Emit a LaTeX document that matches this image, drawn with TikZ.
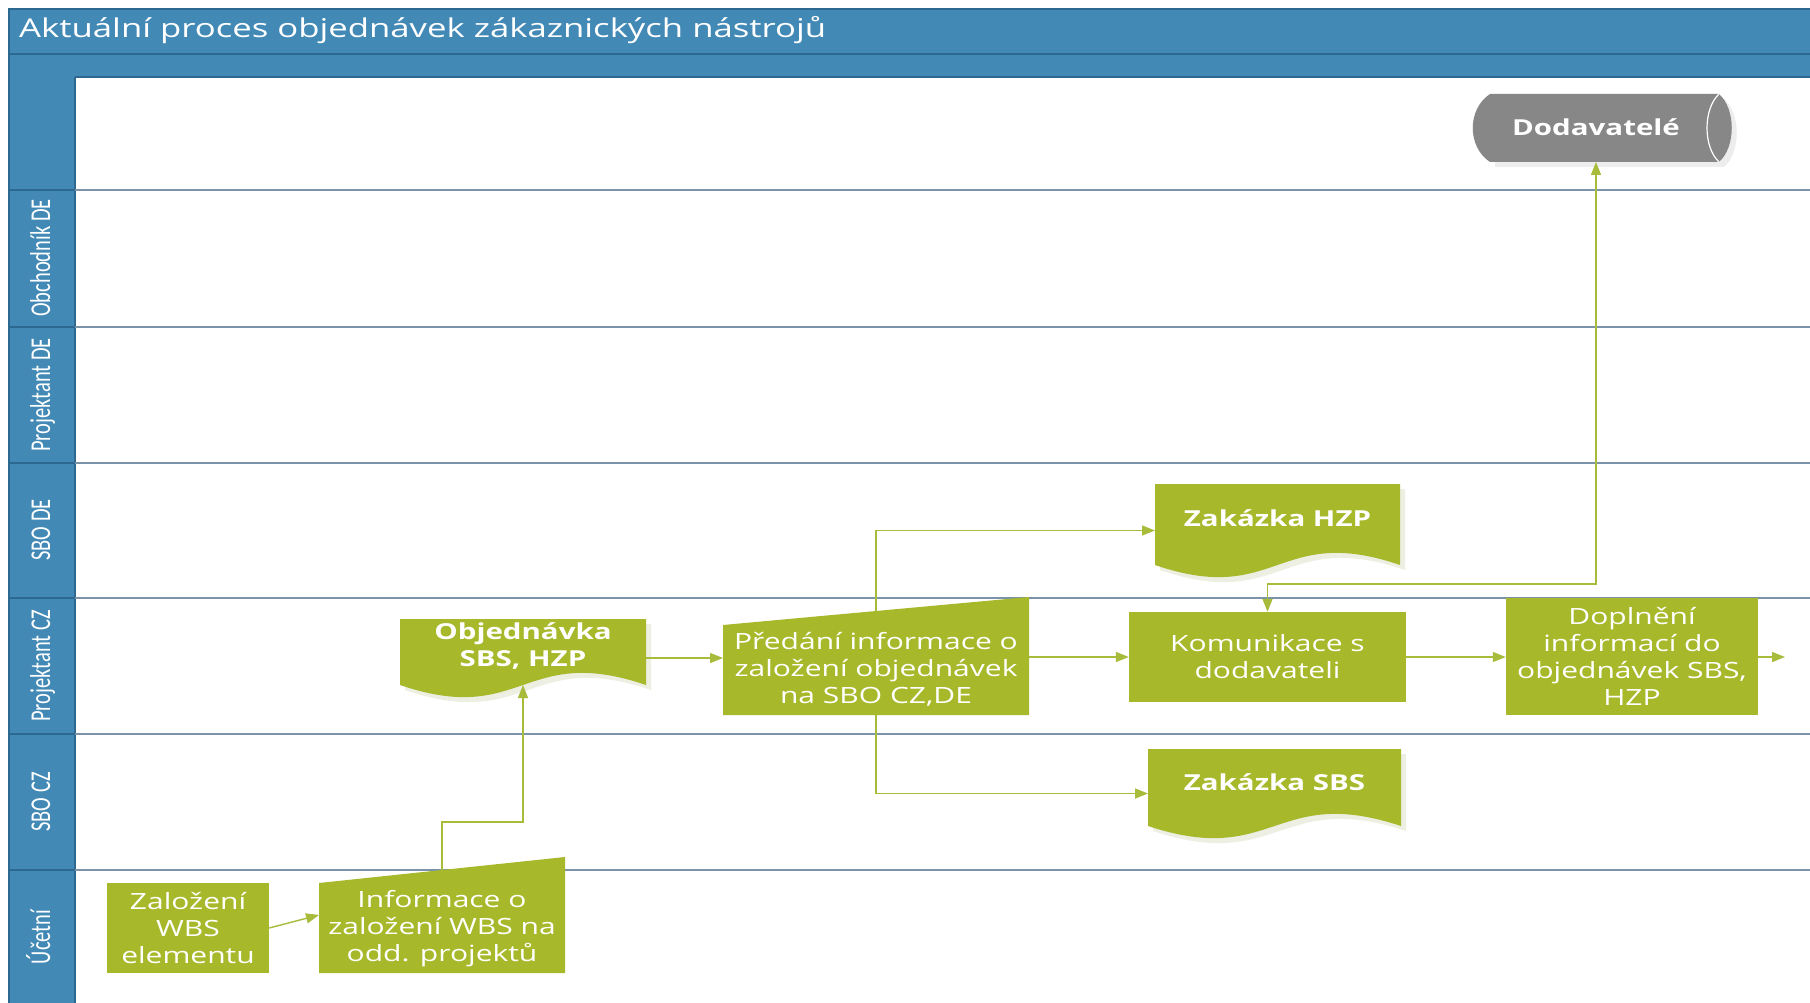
\documentclass[tikz,border=0pt]{standalone}
\usepackage{fontspec}
\setmainfont{Open Sans}[FakeStretch=1.34]
\newfontfamily\lanefamily{Carlito}
\usetikzlibrary{arrows.meta,calc}

\definecolor{hdrblue}{HTML}{4289B6}
\definecolor{hdrline}{HTML}{2C6890}
\definecolor{laneline}{HTML}{7A93A8}
\definecolor{boxgreen}{HTML}{A7B92A}
\definecolor{conngreen}{HTML}{A9BB3A}
\definecolor{storegray}{HTML}{878787}
\definecolor{shadowgray}{HTML}{EDEFE2}
\definecolor{storeshadow}{HTML}{EDEDED}

\newcommand\fTitle{\fontsize{25.9}{30}\selectfont}
\newcommand\fBox{\fontsize{22.4}{27}\selectfont}
\newcommand\fDoc{\fontsize{22}{26.5}\selectfont\bfseries}
\newcommand\fLane{\lanefamily\fontsize{20.5}{24}\selectfont}
% lane names are set in a tall narrow cut
\newcommand\lanetext[1]{\scalebox{1}[1.4]{\fLane #1}}

% document symbol: flat top, wavy bottom, filled under the named area node
\newcommand\docoutline[1]{%
  \fill[shadowgray] ($(#1.north west)+(5,5)$) -- ($(#1.north east)+(5,5)$)
    -- ($(#1.south east)+(5,-7)$) .. controls ($(#1.south)+(5,-49)$) and ($(#1.south)+(5,35)$)
    .. ($(#1.south west)+(5,-7)$) -- cycle;
  \fill[boxgreen] (#1.north west) -- (#1.north east)
    -- ($(#1.south east)+(0,-12)$) .. controls ($(#1.south)+(0,-54)$) and ($(#1.south)+(0,30)$)
    .. ($(#1.south west)+(0,-12)$) -- cycle;}

% manual input symbol: top edge rising to the right
\newcommand\manualoutline[2]{%
  \fill[boxgreen] ($(#1.north west)+(0,#2)$) -- (#1.north east)
    -- (#1.south east) -- (#1.south west) -- cycle;}

\begin{document}
\begin{tikzpicture}[x=1pt,y=-1pt,
  lanelabel/.style={rotate=90, anchor=base, text=white, inner sep=0},
  procbox/.style={fill=boxgreen, text=white, align=center, font=\fBox, inner sep=0},
  shapearea/.style={inner sep=0, outer sep=0},
  boxtext/.style={text=white, align=center, font=\fBox, inner sep=0},
  doctext/.style={text=white, align=center, font=\fDoc, inner sep=0},
  conn/.style={draw=conngreen, line width=1.4pt, -{Triangle[length=13pt,width=10pt]}},
  biconn/.style={draw=conngreen, line width=1.4pt, {Triangle[length=13pt,width=10pt]}-{Triangle[length=13pt,width=10pt]}},
]
\useasboundingbox (0,0) rectangle (1810,1003);
\fill[white] (0,0) rectangle (1810,1003);

% ---- pool header and lane column
\fill[hdrblue] (9,9) rectangle (1810,77);
\fill[hdrblue] (9,77) rectangle (75,1003);
\draw[hdrline, line width=1.3pt] (9,1003) -- (9,9) -- (1810,9);
\draw[hdrline, line width=1.3pt] (9,54) -- (1810,54);
\draw[hdrline, line width=1.8pt] (75,77) -- (1810,77);
\draw[hdrline, line width=1.5pt] (75,77) -- (75,1003);
\foreach \yy in {190,327,463,598,734,870}{
  \draw[hdrline, line width=1.5pt] (9,\yy) -- (75,\yy);
  \draw[laneline, line width=1.6pt] (75,\yy) -- (1810,\yy);
}

\node[anchor=base west, text=white, font=\fTitle, inner sep=0] (title) at (19,37.5)
  {Aktuální proces objednávek zákaznických nástrojů};

% ---- lane names
\node[lanelabel] (lane1) at (50,258) {\lanetext{Obchodník DE}};
\node[lanelabel] (lane2) at (50,395) {\lanetext{Projektant DE}};
\node[lanelabel] (lane3) at (50,530) {\lanetext{SBO DE}};
\node[lanelabel] (lane4) at (50,666) {\lanetext{Projektant CZ}};
\node[lanelabel] (lane5) at (50,802) {\lanetext{SBO CZ}};
\node[lanelabel] (lane6) at (50,937) {\lanetext{Účetní}};

% ---- supplier store (horizontal cylinder)
\node[shapearea, minimum width=246pt, minimum height=68pt] (dod) at (1596,128) {};
\fill[storeshadow] ($(dod.north west)+(22,5)$) -- ($(dod.north east)+(5,5)$)
  .. controls ($(dod.north east)+(22,20)$) and ($(dod.south east)+(22,-10)$) .. ($(dod.south east)+(5,5)$)
  -- ($(dod.south west)+(22,5)$) -- cycle;
\fill[storegray] ($(dod.north west)+(17,0)$) -- (dod.north east)
  .. controls ($(dod.north east)+(17,15)$) and ($(dod.south east)+(17,-15)$) .. (dod.south east)
  -- ($(dod.south west)+(17,0)$)
  .. controls ($(dod.south west)+(-6,-15)$) and ($(dod.north west)+(-6,15)$) .. cycle;
\draw[white, line width=1.2pt] (dod.north east)
  .. controls ($(dod.north east)+(-16,15)$) and ($(dod.south east)+(-16,-15)$) .. (dod.south east);
\node[doctext] (dodtext) at (1596,127) {Dodavatelé};

% ---- process steps
\node[procbox, minimum width=162pt, minimum height=90pt] (wbs) at (188,928)
  {Založení\\WBS\\elementu};

\node[shapearea, minimum width=246pt, minimum height=116pt] (info) at (442,915) {};
\manualoutline{info}{26}
\node[boxtext] (infotext) at (442,929) {Informace o\\založení WBS na\\odd. projektů};

\node[shapearea, minimum width=246pt, minimum height=78pt] (obj) at (523,658) {};
\docoutline{obj}
\node[doctext] (objtext) at (523,646) {Objednávka\\SBS, HZP};

\node[shapearea, minimum width=306pt, minimum height=118pt] (pred) at (876,656) {};
\manualoutline{pred}{28}
\node[boxtext] (predtext) at (876,669) {Předání informace o\\založení objednávek\\na SBO CZ,DE};

\node[shapearea, minimum width=245pt, minimum height=93pt] (hzp) at (1277.5,530.5) {};
\docoutline{hzp}
\node[doctext] (hzptext) at (1277.5,518) {Zakázka HZP};

\node[shapearea, minimum width=253pt, minimum height=89pt] (sbs) at (1274.5,793.5) {};
\docoutline{sbs}
\node[doctext] (sbstext) at (1274.5,782) {Zakázka SBS};

\node[procbox, minimum width=277pt, minimum height=90pt] (komu) at (1267.5,657)
  {Komunikace s\\dodavateli};

\node[procbox, minimum width=252pt, minimum height=117pt] (dopl) at (1632,656.5)
  {Doplnění\\informací do\\objednávek SBS,\\HZP};

\coordinate (out) at (1785,657);

% ---- connectors
\draw[conn] (wbs.east) -- (info.west);
\draw[conn] ($(info.north)+(0,13)$) -- ++(0,-48) -| ($(obj.south)+(0,-12)$);
\draw[conn] (obj.east) -- (obj.east -| pred.west);
\draw[conn] (pred.east |- komu.west) -- (komu.west);
\draw[conn] ($(pred.north)+(0,14)$) |- (hzp.west);
\draw[conn] (pred.south) |- (sbs.west);
\draw[conn] (komu.east) -- (komu.east -| dopl.west);
\draw[conn] (dopl.east |- out) -- (out);
\draw[biconn] (komu.north) -- ++(0,-28) -| (dod.south);
\end{tikzpicture}
\end{document}
